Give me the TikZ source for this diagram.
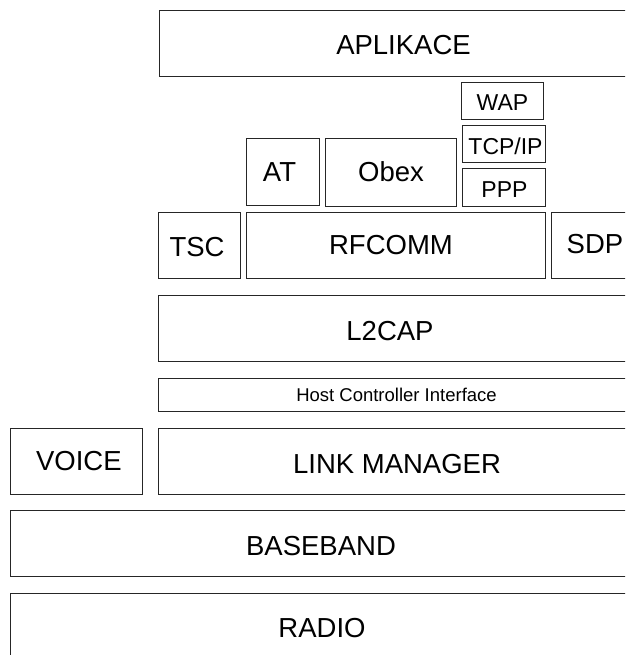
\documentclass[tikz,border=0pt]{standalone}
\usepackage{fontspec}
\setmainfont{Liberation Sans}
\begin{document}
\begin{tikzpicture}[x=1pt,y=-1pt,
  layer/.style={draw=black!85,line width=1pt},
  lbl/.style={anchor=base,inner sep=0pt,font=\fontsize{27.5}{30}\selectfont},
  small/.style={anchor=base,inner sep=0pt,font=\fontsize{23}{26}\selectfont},
  tiny/.style={anchor=base,inner sep=0pt,font=\fontsize{18.5}{21}\selectfont}]
\useasboundingbox (0,0) rectangle (625,655);
\fill[white] (0,0) rectangle (625,655);
\clip (0,0) rectangle (625,655);
% boxes
\draw[layer] (159,11) rectangle (660,77);
\draw[layer] (461,83) rectangle (543,120);
\draw[layer] (462,126) rectangle (545,163);
\draw[layer] (462,169) rectangle (545,206);
\draw[layer] (246,139) rectangle (319,205);
\draw[layer] (325,139) rectangle (456,206);
\draw[layer] (158,212) rectangle (240,278);
\draw[layer] (246,212) rectangle (545,278);
\draw[layer] (551,212) rectangle (660,278);
\draw[layer] (158,295) rectangle (660,361);
\draw[layer] (158,378) rectangle (660,411);
\draw[layer] (10,428) rectangle (142,494);
\draw[layer] (158,428) rectangle (660,494);
\draw[layer] (10,510) rectangle (660,576);
\draw[layer] (10,593) rectangle (660,670);
% labels
\node[lbl] (aplikace) at (403.5,55) {APLIKACE};
\node[small] (wap) at (502.5,111) {WAP};
\node[small] (tcpip) at (505.5,154) {TCP/IP};
\node[small] (ppp) at (504.5,197) {PPP};
\node[lbl] (at) at (279.5,181) {AT};
\node[lbl] (obex) at (391,181) {Obex};
\node[lbl] (tsc) at (197,256) {TSC};
\node[lbl] (rfcomm) at (391,254) {RFCOMM};
\node[lbl] (sdp) at (595,253) {SDP};
\node[lbl] (l2cap) at (390,340) {L2CAP};
\node[tiny] (hci) at (396.5,401.5) {Host Controller Interface};
\node[lbl] (voice) at (78.8,470) {VOICE};
\node[lbl] (linkman) at (397,473) {LINK MANAGER};
\node[lbl] (baseband) at (321,555) {BASEBAND};
\node[lbl] (radio) at (322,637) {RADIO};
\end{tikzpicture}
\end{document}
